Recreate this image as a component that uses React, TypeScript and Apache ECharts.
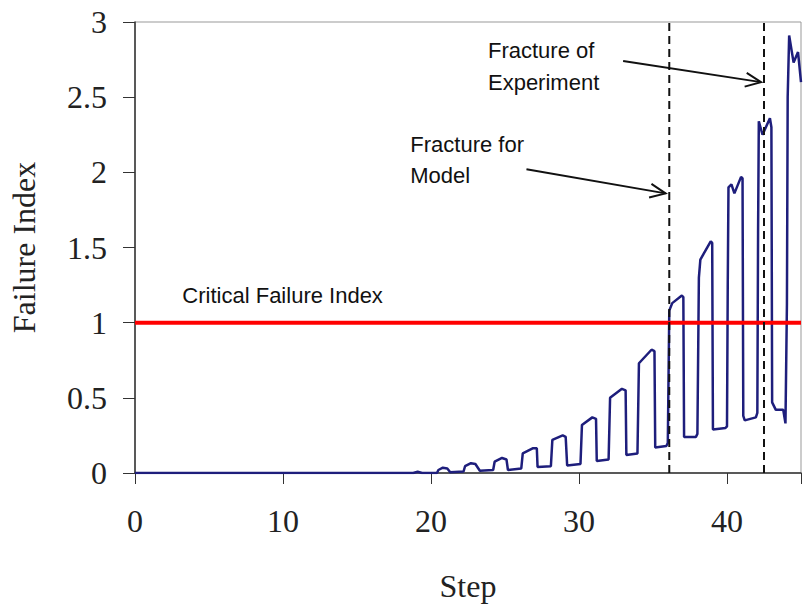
import { useEffect, useRef } from "react";
import * as echarts from "echarts";

// ---- data ----
const steps = [
  0, 18.8, 19.1, 19.4, 20.4, 20.5, 20.8, 21.1, 21.3, 22.2, 22.3, 22.7, 23.0, 23.3,
  24.2, 24.3, 24.8, 25.1, 25.2, 26.1, 26.2, 26.9, 27.15, 27.2, 28.1, 28.2, 28.9,
  29.1, 29.2, 30.1, 30.2, 30.9, 31.15, 31.2, 32.0, 32.1, 32.9, 33.15, 33.2, 33.95,
  34.05, 34.9, 35.1, 35.15, 35.9, 36.0, 36.1, 36.3, 36.95, 37.05, 37.1, 37.9, 38.0,
  38.1, 38.2, 38.9, 39.0, 39.05, 39.9, 40.0, 40.05, 40.1, 40.3, 40.5, 40.95, 41.05,
  41.1, 41.2, 41.95, 42.05, 42.1, 42.15, 42.4, 42.9, 43.0, 43.05, 43.3, 43.8, 43.95,
  44.05, 44.1, 44.2, 44.5, 44.8, 45,
];
const failureIndex = [
  0, 0, 0.008, 0, 0, 0.02, 0.035, 0.03, 0.005, 0.01, 0.045, 0.065, 0.06, 0.015,
  0.02, 0.075, 0.1, 0.09, 0.02, 0.03, 0.13, 0.165, 0.165, 0.04, 0.045, 0.22, 0.25,
  0.24, 0.05, 0.06, 0.32, 0.37, 0.36, 0.08, 0.09, 0.5, 0.56, 0.55, 0.12, 0.13,
  0.73, 0.82, 0.81, 0.17, 0.18, 0.2, 1.08, 1.13, 1.18, 1.17, 0.24, 0.24, 0.26,
  1.3, 1.42, 1.54, 1.53, 0.29, 0.3, 0.31, 1.24, 1.9, 1.92, 1.86, 1.97, 1.96,
  0.38, 0.35, 0.37, 0.4, 1.6, 2.34, 2.25, 2.36, 2.3, 0.47, 0.42, 0.42, 0.33,
  1.13, 2.5, 2.91, 2.73, 2.8, 2.6,
];
const criticalFailureIndex = 1;
const fractureSteps = [36.1, 42.5]; // model, experiment
const xTicks = [0, 10, 20, 30, 40];
const yTicks = [0, 0.5, 1, 1.5, 2, 2.5, 3];

// annotation texts, anchored in data coordinates
const annotations = [
  { text: "Critical Failure Index", step: 3.2, value: 1.18 },
  { text: "Fracture for", step: 18.6, value: 2.182 },
  { text: "Model", step: 18.6, value: 1.976 },
  { text: "Fracture of", step: 23.85, value: 2.808 },
  { text: "Experiment", step: 23.85, value: 2.6 },
];
const arrows = [
  { from: [26.45, 2.02], to: [35.85, 1.86] },
  { from: [32.98, 2.74], to: [42.3, 2.6] },
];

export default function App() {
  const ref = useRef<HTMLDivElement>(null);
  useEffect(() => {
    if (!ref.current) return;
    const chart = echarts.init(ref.current, undefined, { renderer: "svg" });
    const serif = "'Liberation Serif', 'Times New Roman', serif";
    const sans = "'Liberation Sans', Arial, sans-serif";
    chart.setOption({
      animation: false,
      backgroundColor: "#ffffff",
      grid: {
        left: 134,
        right: 1,
        top: 22,
        bottom: 139,
        show: true,
        borderColor: "#999999",
        borderWidth: 1,
      },
      xAxis: {
        type: "value",
        min: 0,
        max: 45,
        interval: 10,
        name: "Step",
        nameLocation: "middle",
        nameGap: 97,
        nameTextStyle: { fontFamily: serif, fontSize: 32, color: "#222" },
        axisLine: { show: true, lineStyle: { color: "#333", width: 1.5 } },
        axisTick: { show: true, length: 11, lineStyle: { color: "#333" } },
        axisLabel: {
          fontFamily: serif,
          fontSize: 32,
          color: "#222",
          margin: 32,
          formatter: (v: number) => (xTicks.includes(v) ? String(v) : ""),
        },
        splitLine: { show: false },
      },
      yAxis: {
        type: "value",
        min: 0,
        max: 3,
        interval: 0.5,
        name: "Failure Index",
        nameLocation: "middle",
        nameGap: 95,
        nameTextStyle: { fontFamily: serif, fontSize: 32, color: "#222" },
        axisLine: { show: true, lineStyle: { color: "#333", width: 1.5 } },
        axisTick: { show: true, length: 12, lineStyle: { color: "#333" } },
        axisLabel: {
          fontFamily: serif,
          fontSize: 32,
          color: "#222",
          margin: 28,
          formatter: (v: number) => (yTicks.includes(v) ? String(v) : ""),
        },
        splitLine: { show: false },
      },
      series: [
        {
          type: "line",
          data: steps.map((s, i) => [s, failureIndex[i]]),
          showSymbol: false,
          lineStyle: { color: "#1e1e7c", width: 2.5 },
          z: 2,
        },
        {
          type: "line",
          data: [
            [0, criticalFailureIndex],
            [45, criticalFailureIndex],
          ],
          showSymbol: false,
          lineStyle: { color: "#ff0000", width: 4 },
          z: 3,
        },
        ...fractureSteps.map((s) => ({
          type: "line",
          data: [
            [s, 0],
            [s, 3],
          ],
          showSymbol: false,
          lineStyle: { color: "#111", width: 2, type: [8, 5] },
          z: 4,
        })),
      ],
    });

    const px = (p: number[]) => chart.convertToPixel({ gridIndex: 0 }, p) as number[];
    const graphics: any[] = [];
    annotations.forEach((a) => {
      const [x, y] = px([a.step, a.value]);
      graphics.push({
        type: "text",
        x,
        y,
        z: 10,
        style: {
          text: a.text,
          fontFamily: sans,
          fontSize: 22,
          fill: "#111",
          verticalAlign: "middle",
          align: "left",
        },
      });
    });
    arrows.forEach((a) => {
      const s = px(a.from);
      const t = px(a.to);
      const dx = t[0] - s[0];
      const dy = t[1] - s[1];
      const len = Math.hypot(dx, dy);
      const ux = dx / len;
      const uy = dy / len;
      const L = 17;
      const th = (24 * Math.PI) / 180;
      const arm = (sgn: number) => {
        const c = Math.cos(th);
        const sn = Math.sin(th) * sgn;
        const rx = ux * c - uy * sn;
        const ry = ux * sn + uy * c;
        return [t[0] - L * rx, t[1] - L * ry];
      };
      graphics.push({
        type: "line",
        z: 10,
        shape: { x1: s[0], y1: s[1], x2: t[0], y2: t[1] },
        style: { stroke: "#111", lineWidth: 2 },
      });
      graphics.push({
        type: "polyline",
        z: 10,
        shape: { points: [arm(1), t, arm(-1)] },
        style: { stroke: "#111", lineWidth: 2, fill: "none" },
      });
    });
    chart.setOption({ graphic: graphics });

    return () => chart.dispose();
  }, []);
  return (
    <div
      ref={ref}
      style={{ position: "fixed", left: 0, top: 0, width: 804, height: 612 }}
    />
  );
}
